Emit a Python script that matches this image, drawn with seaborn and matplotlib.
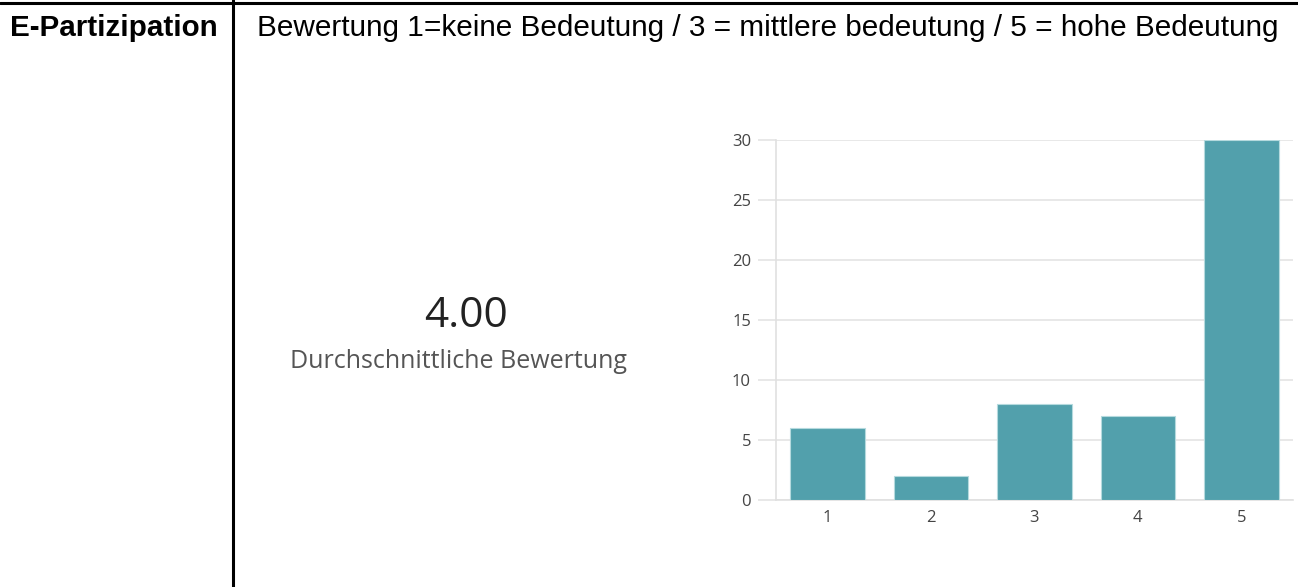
import pandas as pd
import matplotlib.pyplot as plt
import seaborn as sns
from matplotlib.lines import Line2D

# data
ratings = ["1", "2", "3", "4", "5"]
counts = [6, 2, 8, 7, 30]
mean_score = "4.00"
mean_label = "Durchschnittliche Bewertung"
row_title = "E-Partizipation"
row_header = "Bewertung 1=keine Bedeutung / 3 = mittlere bedeutung / 5 = hohe Bedeutung"
yticks = [0, 5, 10, 15, 20, 25, 30]

df = pd.DataFrame({"rating": ratings, "count": counts})

sns.set_theme(style="white")
plt.rcParams['font.family'] = ['Open Sans', 'DejaVu Sans']

W, H = 1298, 587
fig = plt.figure(figsize=(W / 100, H / 100), dpi=100, facecolor='w')

# table lines
fig.add_artist(Line2D([0, 1], [1 - 2.5 / H, 1 - 2.5 / H], color='black', lw=2.2))
fig.add_artist(Line2D([232.5 / W, 232.5 / W], [0, 1], color='black', lw=2.2))

fig.text(10 / W, 1 - 28 / H, row_title, fontsize=21.3, fontweight='bold',
         family='Liberation Sans', va='center', ha='left', color='black')
fig.text(257 / W, 1 - 28 / H, row_header, fontsize=21.4,
         family='Liberation Sans', va='center', ha='left', color='black')

fig.text(466 / W, 1 - 316 / H, mean_score, fontsize=30.5, color='#222222',
         ha='center', va='center')
fig.text(458 / W, 1 - 362 / H, mean_label, fontsize=18, color='#555555',
         ha='center', va='center')

# bar chart
ax = fig.add_axes([776 / W, 1 - 500 / H, 517 / W, 360 / H])
sns.barplot(data=df, x="rating", y="count", color='#52a0ac', saturation=1,
            width=0.72, edgecolor='#b5dade', linewidth=0.8, ax=ax, zorder=3)
ax.set_xlim(-0.5, 4.5)
ax.set_ylim(0, 30)
ax.set_yticks(yticks)
ax.set_xlabel("")
ax.set_ylabel("")
ax.grid(axis='y', color='#e4e4e4', lw=1.2, zorder=0)
ax.set_axisbelow(True)
for s in ['top', 'right']:
    ax.spines[s].set_visible(False)
for s in ['left', 'bottom']:
    ax.spines[s].set_color('#e0e0e0')
    ax.spines[s].set_linewidth(1.2)
ax.tick_params(axis='y', length=13, width=1.2, color='#e4e4e4', left=True,
               labelsize=12, labelcolor='#444444', pad=5)
ax.tick_params(axis='x', length=0, labelsize=12, labelcolor='#444444', pad=7)

fig.savefig('out.png', dpi=100, facecolor='w')
